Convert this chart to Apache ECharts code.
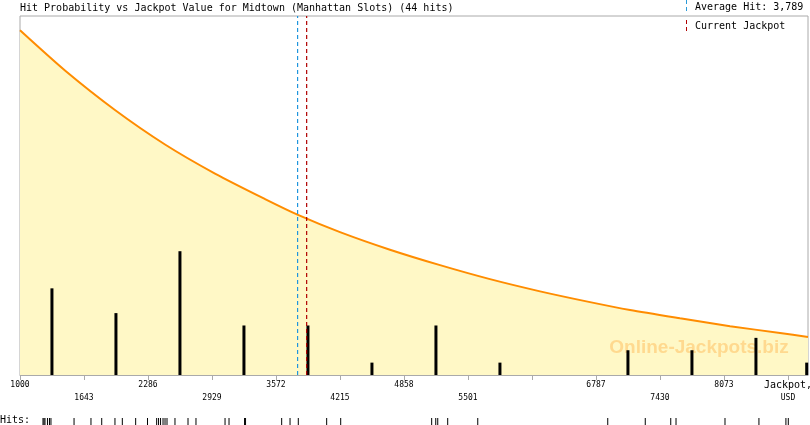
<!DOCTYPE html>
<html><head><meta charset="utf-8">
<script src="https://cdn.jsdelivr.net/npm/echarts@6/dist/echarts.min.js"></script>
<style>html,body{margin:0;padding:0;background:#fff}#c{width:810px;height:425px}</style>
</head><body><div id="c"></div>
<script>
const titleText = 'Hit Probability vs Jackpot Value for Midtown (Manhattan Slots) (44 hits)';
const xMin = 1000, xMax = 8917, binStep = 643;
const tickLabels = ['1000','1643','2286','2929','3572','4215','4858','5501','','6787','7430','8073','Jackpot,|USD'];
const curveX = [1000,1452,1954,2457,2959,3462,3793,4215,4717,5220,5722,6225,6727,7129,7631,8134,8636,8917];
const curveY = [96.0,84.8,73.8,64.2,56.1,49.0,44.6,39.8,34.9,30.6,26.7,23.3,20.3,18.1,15.8,13.6,11.7,10.6];
const binX = [1321,1964,2607,3250,3893,4536,5179,5822,7108,7751,8394,8904];
const binCounts = [7,5,10,4,4,1,4,1,2,2,3,1];
const hits = [1231,1241,1251,1276,1296,1311,1543,
  1713,1821,1954,2028,2162,
  2281,2373,2392,2412,2437,2457,2477,2557,2688,2768,
  3060,3100,3256,3266,
  3629,3713,3796,4081,
  4222,
  5136,5177,5197,5297,
  5599,
  6905,7282,
  7538,7591,
  8083,8424,8695,
  8719];
const averageHit = 3789;
const currentJackpot = 3880;
const legendAvg = 'Average Hit: 3,789';
const legendCur = 'Current Jackpot';
const watermark = 'Online-Jackpots.biz';

const mono = '"DejaVu Sans Mono", monospace';
const rows = [];
let cnt = 0;
tickLabels.forEach((l, i) => { rows[i] = l ? (cnt++ % 2) : 0; });

function vLine(value, color) {
  return {type: 'line', xAxisIndex: 0, yAxisIndex: 1, z: 6, symbol: 'none', silent: true,
    data: [[value, 0], [value, 100]],
    color: color,
    lineStyle: {color: color, width: 1.2, type: [4, 3], opacity: 1},
    emphasis: {disabled: true}};
}

const chart = echarts.init(document.getElementById('c'));
chart.setOption({
  animation: false,
  backgroundColor: '#fff',
  grid: [
    {left: 20, right: 2, top: 16, bottom: 50, show: true, borderColor: '#aaa', borderWidth: 1,
     backgroundColor: 'transparent', containLabel: false, outerBoundsMode: 'none'},
    {left: 20, right: 2, top: 418, height: 7, containLabel: false, outerBoundsMode: 'none'}
  ],
  xAxis: [
    {type: 'value', gridIndex: 0, min: xMin, max: xMax, interval: binStep,
     axisLine: {lineStyle: {color: '#aaa'}},
     axisTick: {show: true, length: 5, lineStyle: {color: '#aaa'}},
     splitLine: {show: false},
     axisLabel: {
       showMinLabel: true, showMaxLabel: false, margin: 4, hideOverlap: false,
       fontFamily: mono, fontSize: 8, color: '#000', lineHeight: 12.5,
       formatter: function (v) {
         const k = Math.round((v - xMin) / binStep);
         const lab = tickLabels[k];
         if (!lab) return '';
         if (lab.indexOf('|') >= 0) {
           const p = lab.split('|');
           return '{n|' + p[0] + '}\n{u|' + p[1] + '}';
         }
         return rows[k] ? '\n' + lab : lab;
       },
       rich: {
         n: {fontFamily: mono, fontSize: 10, color: '#000', lineHeight: 12.5},
         u: {fontFamily: mono, fontSize: 8, color: '#000', lineHeight: 12.5}
       }
     }},
    {type: 'value', gridIndex: 1, min: xMin, max: xMax, show: false}
  ],
  yAxis: [
    {type: 'value', gridIndex: 0, min: 0, max: 29, show: false, splitLine: {show: false}},
    {type: 'value', gridIndex: 0, min: 0, max: 100, show: false, splitLine: {show: false}},
    {type: 'value', gridIndex: 1, min: 0, max: 1, show: false, splitLine: {show: false}}
  ],
  graphic: [
    {type: 'text', x: 20, y: 8, z: 10, style: {text: titleText, font: '10px ' + mono, fill: '#000', verticalAlign: 'middle'}},
    {type: 'text', x: 695, y: 7, z: 10, style: {text: legendAvg, font: '10px ' + mono, fill: '#000', verticalAlign: 'middle'}},
    {type: 'text', x: 695, y: 26, z: 10, style: {text: legendCur, font: '10px ' + mono, fill: '#000', verticalAlign: 'middle'}},
    {type: 'line', z: 10, shape: {x1: 686.5, y1: 0, x2: 686.5, y2: 13}, style: {stroke: '#2a9ad8', lineWidth: 1, lineDash: [4, 3]}},
    {type: 'line', z: 10, shape: {x1: 686.5, y1: 20, x2: 686.5, y2: 34}, style: {stroke: '#b00000', lineWidth: 1, lineDash: [4, 3]}},
    {type: 'text', x: 0, y: 420, z: 10, style: {text: 'Hits:', font: '10px ' + mono, fill: '#000', verticalAlign: 'middle'}},
    {type: 'text', x: 699, y: 348, z: 3, style: {text: watermark, font: 'bold 19px "Liberation Sans", Arial, sans-serif', fill: 'rgba(255,160,40,0.35)', align: 'center', verticalAlign: 'middle'}}
  ],
  series: [
    {type: 'line', xAxisIndex: 0, yAxisIndex: 1, z: 1, smooth: 0.25, symbol: 'none',
     data: curveX.map((x, i) => [x, curveY[i]]),
     lineStyle: {color: '#ff8c00', width: 2},
     areaStyle: {color: '#fff8c6', opacity: 1}},
    {type: 'bar', xAxisIndex: 0, yAxisIndex: 0, z: 5, barWidth: 3,
     data: binX.map((x, i) => [x, binCounts[i]]),
     itemStyle: {color: '#000'}},
    vLine(currentJackpot, '#b00000'),
    vLine(averageHit, '#1f95dd'),
    {type: 'scatter', xAxisIndex: 1, yAxisIndex: 2, symbol: 'rect', symbolSize: [1, 7],
     data: hits.map(h => [h, 0.5]), itemStyle: {color: '#000', opacity: 1}}
  ]
});
</script>
</body></html>
